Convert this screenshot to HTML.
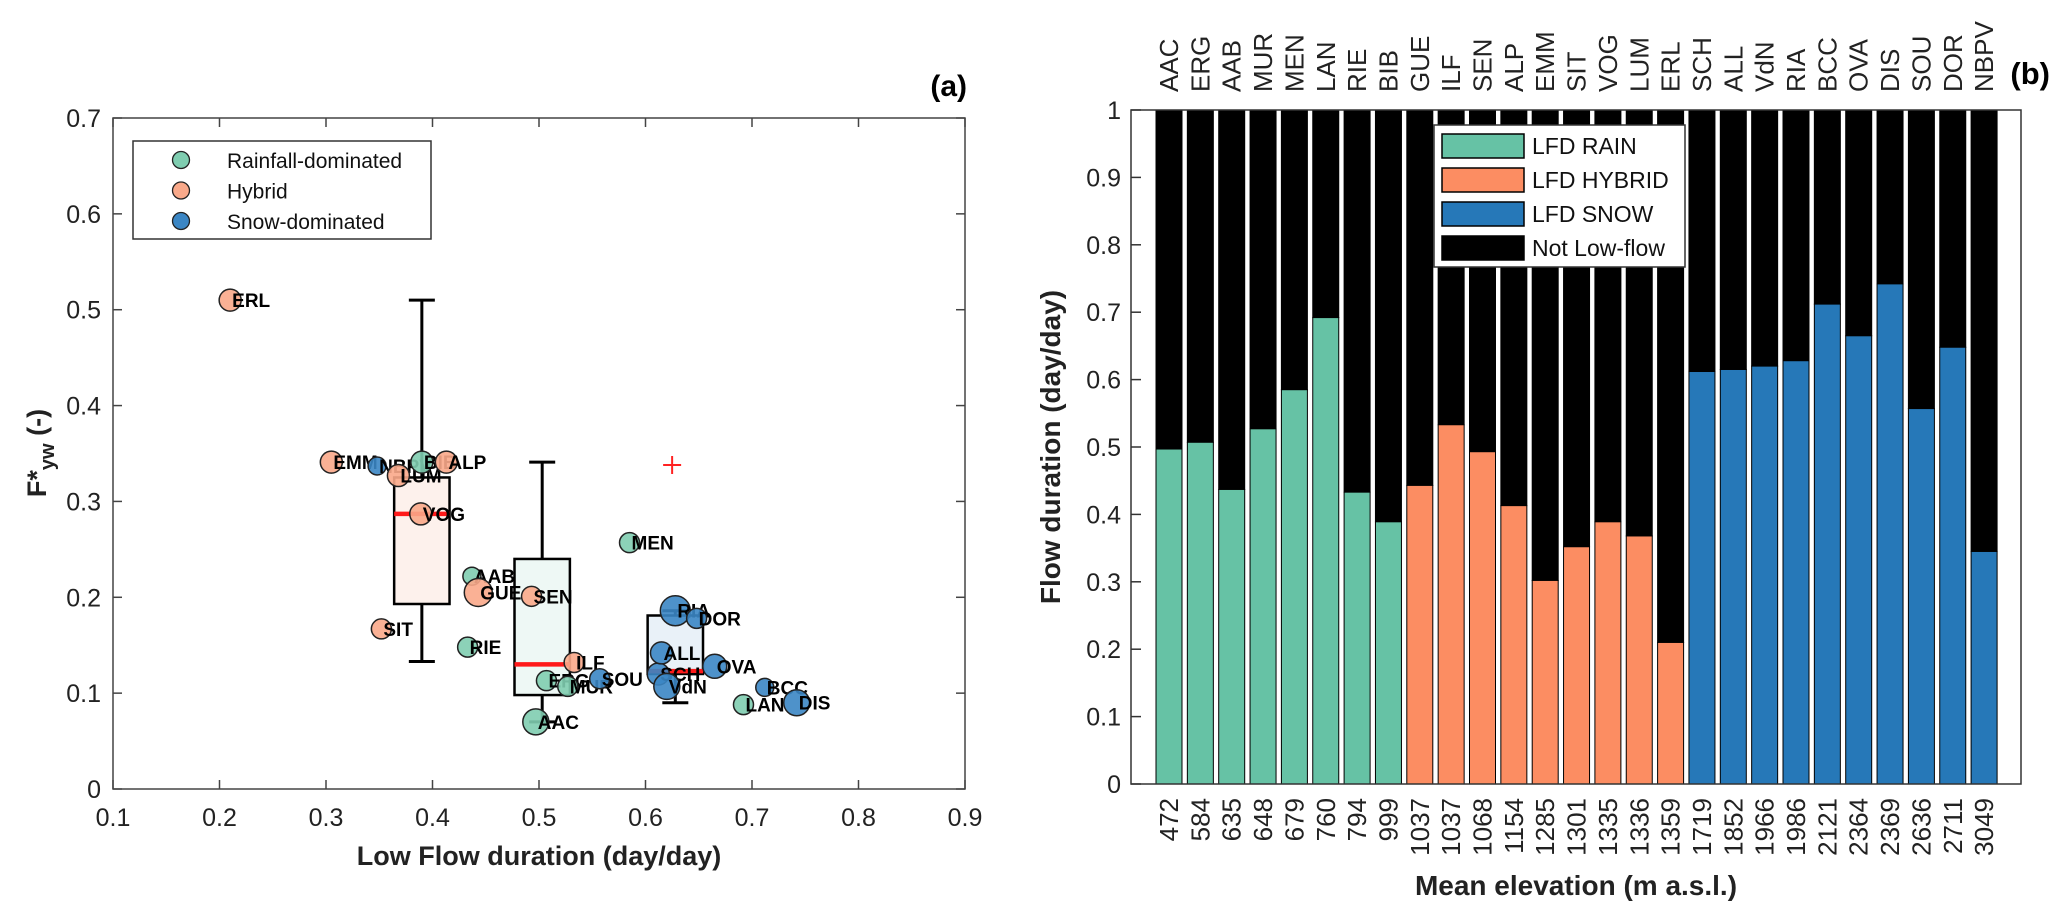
<!DOCTYPE html>
<html><head><meta charset="utf-8"><style>
body{margin:0;background:#fff;}
svg{display:block;font-family:"Liberation Sans",Arial,sans-serif;}
</style></head><body>
<svg id="fig" width="2067" height="915" viewBox="0 0 2067 915"></svg>
<script>
// ---------- Panel (a) data ----------
const siteNames = ["ERL","EMM","NBPV","LUM","BIB","ALP","VOG","SIT","AAB","GUE","SEN","MEN","RIE","ERG","MUR","ILF","SOU","SCH","ALL","VdN","RIA","DOR","OVA","BCC","LAN","DIS","AAC"];
const lowFlowDur = [0.21,0.305,0.348,0.368,0.39,0.413,0.389,0.352,0.437,0.443,0.493,0.585,0.433,0.507,0.527,0.533,0.557,0.612,0.615,0.62,0.628,0.648,0.665,0.712,0.692,0.742,0.497];
const fyw = [0.51,0.341,0.337,0.327,0.341,0.341,0.287,0.167,0.222,0.205,0.201,0.257,0.148,0.113,0.107,0.132,0.115,0.12,0.142,0.107,0.186,0.178,0.128,0.106,0.088,0.09,0.07];
const regime = ["H","H","S","H","R","H","H","H","R","H","H","R","R","R","R","H","S","S","S","S","S","S","S","S","R","S","R"];
const markerSize = [11,11,9,11,11,11,11,10,9,14,10,10,10,10,10,10,10,11,11,13,15,10,12,9,10,13,13];
const boxGroups = ["H","R","S"];
const boxCenter = [0.39,0.503,0.628];
const boxHalfW = [0.026,0.026,0.026];
const boxQ1 = [0.193,0.098,0.12];
const boxQ3 = [0.325,0.24,0.181];
const boxMed = [0.287,0.13,0.123];
const boxLo = [0.133,0.07,0.09];
const boxHi = [0.51,0.341,0.186];
const outX = [0.625], outY = [0.338];
const xTicksA = [0.1,0.2,0.3,0.4,0.5,0.6,0.7,0.8,0.9];
const yTicksA = [0,0.1,0.2,0.3,0.4,0.5,0.6,0.7];
// ---------- Panel (b) data ----------
const barNames = ["AAC","ERG","AAB","MUR","MEN","LAN","RIE","BIB","GUE","ILF","SEN","ALP","EMM","SIT","VOG","LUM","ERL","SCH","ALL","VdN","RIA","BCC","OVA","DIS","SOU","DOR","NBPV"];
const elevations = ["472","584","635","648","679","760","794","999","1037","1037","1068","1154","1285","1301","1335","1336","1359","1719","1852","1966","1986","2121","2364","2369","2636","2711","3049"];
const lfd = [0.497,0.507,0.437,0.527,0.585,0.692,0.433,0.389,0.443,0.533,0.493,0.413,0.302,0.352,0.389,0.368,0.21,0.612,0.615,0.62,0.628,0.712,0.665,0.742,0.557,0.648,0.345];
const barRegime = ["R","R","R","R","R","R","R","R","H","H","H","H","H","H","H","H","H","S","S","S","S","S","S","S","S","S","S"];
const yTicksB = [0,0.1,0.2,0.3,0.4,0.5,0.6,0.7,0.8,0.9,1];

const NS="http://www.w3.org/2000/svg";
const svg=document.getElementById('fig');
function mk(tag,attrs,parent,text){const e=document.createElementNS(NS,tag);for(const k in attrs)e.setAttribute(k,attrs[k]);if(text!==undefined)e.textContent=text;(parent||svg).appendChild(e);return e;}
const fill={R:"#66c2a5",H:"#fc8d62",S:"#2678b8"};
const ptFill={R:"#7fcdb0",H:"#f9a98a",S:"#3b86c4"};
const boxFill={R:"#eef8f5",H:"#fdf1ec",S:"#e9f1f8"};

// ===== Panel A =====
const AX0=113,AX1=965,AY0=789,AY1=118;
const xA=v=>AX0+(v-0.1)/0.8*(AX1-AX0);
const yA=v=>AY0-v/0.7*(AY0-AY1);
const gA=mk('g',{});


for(let i=0;i<boxGroups.length;i++){
  const g=mk('g',{},gA);
  
  
  const cx=xA(boxCenter[i]),l=xA(boxCenter[i]-boxHalfW[i]),r=xA(boxCenter[i]+boxHalfW[i]);
  mk('line',{x1:cx,x2:cx,y1:yA(boxHi[i]),y2:yA(boxQ3[i]),stroke:'#000','stroke-width':3},g);
  mk('line',{x1:cx,x2:cx,y1:yA(boxQ1[i]),y2:yA(boxLo[i]),stroke:'#000','stroke-width':3},g);
  mk('line',{x1:cx-13,x2:cx+13,y1:yA(boxHi[i]),y2:yA(boxHi[i]),stroke:'#000','stroke-width':3},g);
  mk('line',{x1:cx-13,x2:cx+13,y1:yA(boxLo[i]),y2:yA(boxLo[i]),stroke:'#000','stroke-width':3},g);
  mk('rect',{x:l,y:yA(boxQ3[i]),width:r-l,height:yA(boxQ1[i])-yA(boxQ3[i]),fill:boxFill[boxGroups[i]],stroke:'#000','stroke-width':2.5},g);
  mk('line',{x1:l,x2:r,y1:yA(boxMed[i]),y2:yA(boxMed[i]),stroke:'#ff1a1a','stroke-width':4.5},g);
}
for(let i=0;i<outX.length;i++){
  const o=mk('g',{},gA);
  
  
  mk('line',{x1:xA(outX[i])-9,x2:xA(outX[i])+9,y1:yA(outY[i]),y2:yA(outY[i]),stroke:'#f22','stroke-width':2},o);
  mk('line',{x1:xA(outX[i]),x2:xA(outX[i]),y1:yA(outY[i])-9,y2:yA(outY[i])+9,stroke:'#f22','stroke-width':2},o);
}
for(let i=0;i<siteNames.length;i++){
  const c=mk('circle',{cx:xA(lowFlowDur[i]),cy:yA(fyw[i]),r:markerSize[i],fill:ptFill[regime[i]],stroke:'#222','stroke-width':1.5,'fill-opacity':0.9},gA);
  
  
  const t=mk('text',{x:xA(lowFlowDur[i])+2,y:yA(fyw[i])+7,'font-size':19,'font-weight':'bold'},gA,siteNames[i]);
  
  
}
const fa=mk('rect',{x:AX0,y:AY1,width:AX1-AX0,height:AY0-AY1,fill:'none',stroke:'#444','stroke-width':1.5},gA);


for(const v of xTicksA){
  const x=xA(v);
  mk('line',{x1:x,x2:x,y1:AY0,y2:AY0-9,stroke:'#444','stroke-width':1.5},gA);
  mk('line',{x1:x,x2:x,y1:AY1,y2:AY1+9,stroke:'#444','stroke-width':1.5},gA);
  const t=mk('text',{x:x,y:AY0+37,'font-size':25,'text-anchor':'middle',fill:'#222'},gA,String(v));
  
  
}
for(const v of yTicksA){
  const y=yA(v);
  mk('line',{x1:AX0,x2:AX0+9,y1:y,y2:y,stroke:'#444','stroke-width':1.5},gA);
  mk('line',{x1:AX1,x2:AX1-9,y1:y,y2:y,stroke:'#444','stroke-width':1.5},gA);
  const t=mk('text',{x:AX0-12,y:y+9,'font-size':25,'text-anchor':'end',fill:'#222'},gA,String(v));
  
  
}
let t=mk('text',{x:539,y:865,'font-size':27,'font-weight':'bold','text-anchor':'middle',fill:'#222'},gA,'Low Flow duration (day/day)');


t=mk('text',{transform:'translate(46,453) rotate(-90)','font-size':27,'font-weight':'bold','text-anchor':'middle',fill:'#222'},gA);


mk('tspan',{},t,'F*');mk('tspan',{dy:8,'font-size':20},t,'yw');mk('tspan',{dy:-8},t,' (-)');
t=mk('text',{x:967,y:96,'font-size':30,'font-weight':'bold','text-anchor':'end'},gA,'(a)');


const lg=mk('g',{},gA);


mk('rect',{x:133,y:141,width:298,height:98,fill:'#fff',stroke:'#333','stroke-width':1.5},lg);
const legA=[["R","Rainfall-dominated"],["H","Hybrid"],["S","Snow-dominated"]];
legA.forEach((e,i)=>{const y=160+i*30.5;
  const c=mk('circle',{cx:181,cy:y,r:8.5,fill:ptFill[e[0]],stroke:'#222','stroke-width':1.3},lg);
  
  
  const tt=mk('text',{x:227,y:y+8,'font-size':21,fill:'#111'},lg,e[1]);
  
  
});

// ===== Panel B =====
const BX0=1131,BX1=2021,BY0=784,BY1=110;
const pitch=31.35, firstC=1169;
const xB=i=>firstC+i*pitch;
const yB=v=>BY0-v*(BY0-BY1);
const bw=26;
const gB=mk('g',{});


for(let i=0;i<barNames.length;i++){
  const cx=xB(i);
  const bk=mk('rect',{x:cx-bw/2,y:yB(1),width:bw,height:yB(lfd[i])-yB(1),fill:'#000',stroke:'#000','stroke-width':1},gB);
  
  
  const b=mk('rect',{x:cx-bw/2,y:yB(lfd[i]),width:bw,height:yB(0)-yB(lfd[i]),fill:fill[barRegime[i]],stroke:'#000','stroke-width':1},gB);
  
  
  const tn=mk('text',{transform:`translate(${cx+9},${BY1-18}) rotate(-90)`,'font-size':26,fill:'#222'},gB,barNames[i]);
  
  
  const te=mk('text',{transform:`translate(${cx+9},${BY0+14}) rotate(-90)`,'font-size':26,'text-anchor':'end',fill:'#222'},gB,elevations[i]);
  
  
}
const fb=mk('rect',{x:BX0,y:BY1,width:BX1-BX0,height:BY0-BY1,fill:'none',stroke:'#333','stroke-width':1.5},gB);


for(const v of yTicksB){
  const y=yB(v);
  mk('line',{x1:BX0,x2:BX0+10,y1:y,y2:y,stroke:'#333','stroke-width':1.5},gB);
  const tt=mk('text',{x:BX0-10,y:y+9,'font-size':25,'text-anchor':'end',fill:'#222'},gB,String(v));
  
  
}
t=mk('text',{x:1576,y:895,'font-size':28,'font-weight':'bold','text-anchor':'middle',fill:'#222'},gB,'Mean elevation (m a.s.l.)');


t=mk('text',{transform:'translate(1060,447) rotate(-90)','font-size':28,'font-weight':'bold','text-anchor':'middle',fill:'#222'},gB,'Flow duration (day/day)');


t=mk('text',{x:2050,y:84,'font-size':31,'font-weight':'bold','text-anchor':'end'},gB,'(b)');


const lb=mk('g',{},gB);


mk('rect',{x:1434,y:125,width:251,height:142,fill:'#fff',stroke:'#333','stroke-width':1.5},lb);
const legB=[["#66c2a5","LFD RAIN"],["#fc8d62","LFD HYBRID"],["#2678b8","LFD SNOW"],["#000","Not Low-flow"]];
legB.forEach((e,i)=>{const y=146+i*34;
  const r=mk('rect',{x:1442,y:y-12,width:82,height:24,fill:e[0],stroke:'#000','stroke-width':1.5},lb);
  
  
  const tt=mk('text',{x:1532,y:y+8,'font-size':23,fill:'#111'},lb,e[1]);
  
  
});
</script>
</body></html>
